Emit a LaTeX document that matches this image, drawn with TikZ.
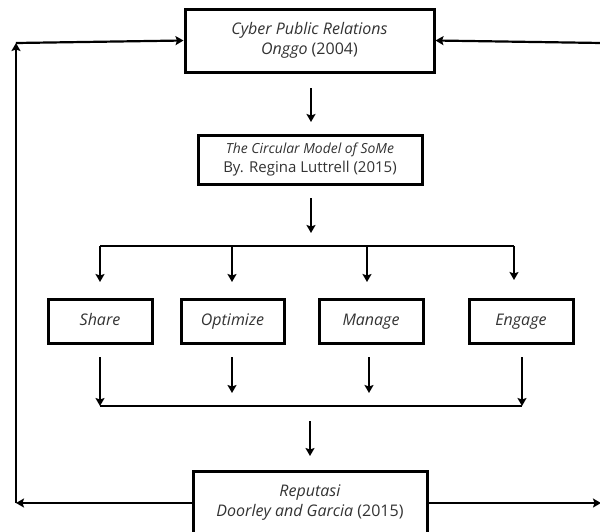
\documentclass[tikz,border=0pt]{standalone}
\usepackage{fontspec}
\setmainfont{Open Sans}
\usetikzlibrary{arrows.meta}
\tikzset{
  box/.style={draw=black, line width=3pt, align=center, inner sep=0pt, text=black!80, font=\fontsize{16}{20}\selectfont},
  smallbox/.style={box, minimum width=104pt, minimum height=44pt, text height=12pt, text depth=3.5pt},
  arr/.style={line width=2.2pt, -{Stealth[length=8pt,width=9pt,inset=1.5pt]}},
  ln/.style={line width=2.2pt}
}
\begin{document}
\begin{tikzpicture}[x=1pt,y=-1pt]
\useasboundingbox (0,0) rectangle (600,531);
\clip (0,0) rectangle (600,531);
\fill[white] (0,0) rectangle (600,531);
% nodes
\node[box, minimum width=249pt, minimum height=63pt] (top) at (309.5,40.5) {\textit{Cyber Public Relations}\\\textit{Onggo} (2004)};
\node[box, minimum width=224pt, minimum height=49pt, font=\fontsize{15}{19}\selectfont] (mid) at (310,159.5) {{\fontsize{13.9}{19}\selectfont\textit{The Circular Model of SoMe}}\\By. Regina Luttrell (2015)};
\node[smallbox] (share) at (100,321) {\textit{Share}};
\node[smallbox, minimum width=103pt] (opt) at (232.5,321) {\textit{Optimize}};
\node[smallbox] (man) at (371,321) {\textit{Manage}};
\node[smallbox] (eng) at (521,321) {\textit{Engage}};
\node[box, minimum width=234pt, minimum height=64pt] (bot) at (310,503) {\textit{Reputasi}\\\textit{Doorley and Garcia} (2015)};
% coordinates
\coordinate (a1s) at (311,88);  \coordinate (a1e) at (311,122);
\coordinate (a2s) at (311,198); \coordinate (a2e) at (311,233);
\coordinate (bl) at (100,246);  \coordinate (br) at (514,246);
\coordinate (b2) at (232,246);  \coordinate (b3) at (367,246);
\coordinate (s1) at (100,357);  \coordinate (e1) at (100,406);
\coordinate (s2) at (232,357);  \coordinate (e2) at (232,393);
\coordinate (s3) at (369,357);  \coordinate (e3) at (369,393);
\coordinate (s4) at (522,357);  \coordinate (e4) at (522,406);
\coordinate (a3s) at (310,421); \coordinate (a3e) at (310,456);
\coordinate (lb) at (16,503);   \coordinate (lt) at (16,43);
\coordinate (rt) at (602,43);   \coordinate (rb) at (601,503);
% connectors
\draw[arr] (a1s) -- (a1e);
\draw[arr] (a2s) -- (a2e);
\draw[ln] (bl) -- (br);
\draw[arr] (bl) -- ++(0,36);
\draw[arr] (b2) -- ++(0,36);
\draw[arr] (b3) -- ++(0,36);
\draw[arr] (br) -- ++(0,34);
\draw[arr] (s1) -- (e1);
\draw[arr] (s2) -- (e2);
\draw[arr] (s3) -- (e3);
\draw[arr] (s4) -- (e4);
\draw[ln] (e1) -- (e4);
\draw[arr] (a3s) -- (a3e);
\draw[arr] (bot.west) -- (lb);
\draw[arr] (lb) -- (lt);
\draw[arr] (lt) -- (top.west);
\draw[arr] (rt) -- (top.east);
\draw[arr] (bot.east) -- (rb);
\end{tikzpicture}
\end{document}
